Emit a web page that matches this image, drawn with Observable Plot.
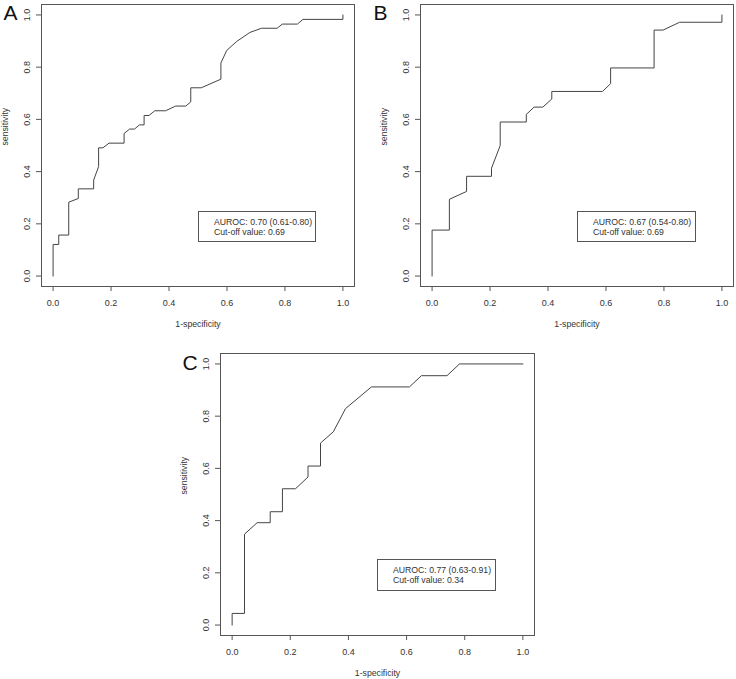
<!DOCTYPE html>
<html><head><meta charset="utf-8">
<script src="https://cdn.jsdelivr.net/npm/d3@7"></script>
<script src="https://cdn.jsdelivr.net/npm/@observablehq/plot@0.6"></script>
<style>
body{margin:0;background:#fff;}
#wrap{position:relative;width:736px;height:679px;font-family:"Liberation Sans",Arial,sans-serif;}
.panel{position:absolute;}
.legend{position:absolute;border:1px solid #555;box-sizing:border-box;font-size:8.7px;color:#333;line-height:10.5px;padding-top:4.75px;padding-left:15px;white-space:nowrap;}
</style></head><body><div id="wrap"></div>
<script>
const ticks = [0, 0.2, 0.4, 0.6, 0.8, 1.0];
const xLabel = "1-specificity";
const yLabel = "sensitivity";
const letters = ["A", "B", "C"];

const fprA = [0, 0, 0.0195, 0.0195, 0.054, 0.054, 0.087, 0.087, 0.140, 0.140, 0.157, 0.157, 0.172, 0.193, 0.245, 0.245, 0.264, 0.281, 0.298, 0.314, 0.314, 0.331, 0.351, 0.388, 0.423, 0.458, 0.475, 0.475, 0.511, 0.579, 0.579, 0.599, 0.633, 0.679, 0.719, 0.773, 0.791, 0.843, 0.862, 1, 1];
const tprA = [0, 0.121, 0.121, 0.157, 0.157, 0.283, 0.297, 0.334, 0.334, 0.368, 0.419, 0.491, 0.491, 0.509, 0.509, 0.546, 0.563, 0.563, 0.579, 0.579, 0.615, 0.615, 0.633, 0.633, 0.651, 0.651, 0.667, 0.721, 0.721, 0.754, 0.816, 0.864, 0.898, 0.933, 0.949, 0.949, 0.965, 0.965, 0.983, 0.983, 1.0];

const fprB = [0, 0, 0.0596, 0.0596, 0.119, 0.119, 0.205, 0.205, 0.235, 0.235, 0.325, 0.325, 0.352, 0.382, 0.413, 0.413, 0.588, 0.616, 0.616, 0.766, 0.766, 0.797, 0.854, 1, 1];
const tprB = [0, 0.176, 0.176, 0.294, 0.324, 0.382, 0.382, 0.413, 0.500, 0.590, 0.590, 0.619, 0.647, 0.647, 0.678, 0.707, 0.707, 0.737, 0.797, 0.797, 0.942, 0.942, 0.972, 0.972, 1];

const fprC = [0, 0, 0.0425, 0.0425, 0.086, 0.131, 0.131, 0.173, 0.173, 0.218, 0.261, 0.261, 0.304, 0.304, 0.348, 0.390, 0.479, 0.610, 0.651, 0.739, 0.782, 1.0];
const tprC = [0, 0.0446, 0.0446, 0.348, 0.392, 0.392, 0.434, 0.434, 0.522, 0.522, 0.567, 0.609, 0.609, 0.697, 0.740, 0.829, 0.912, 0.912, 0.955, 0.955, 1.0, 1.0];

const aurocLabels = ["AUROC: 0.70 (0.61-0.80)", "AUROC: 0.67 (0.54-0.80)", "AUROC: 0.77 (0.63-0.91)"];
const cutoffLabels = ["Cut-off value: 0.69", "Cut-off value: 0.69", "Cut-off value: 0.34"];

const wrap = document.getElementById("wrap");
const fmt = d3.format(".1f");

function rocPanel(letter, fpr, tpr, opt) {
  const data = fpr.map((x, i) => ({x, y: tpr[i]}));
  return Plot.plot({
    width: opt.width, height: 330,
    marginLeft: opt.marginLeft, marginRight: opt.marginRight, marginTop: 4, marginBottom: 44,
    x: {domain: [-0.04, 1.04]},
    y: {domain: [-0.04, 1.04]},
    style: {fontFamily: '"Liberation Sans", Arial, sans-serif', fontSize: "9px", color: "#333", background: "transparent", overflow: "visible"},
    marks: [
      Plot.frame({stroke: "#555"}),
      Plot.axisX({ticks, tickSize: 5, tickPadding: 8, tickFormat: fmt, label: null, stroke: "#555", fill: "#333"}),
      Plot.axisY({ticks, tickSize: 5, tickPadding: 7, tickRotate: -90, textAnchor: "middle", lineAnchor: "bottom", tickFormat: fmt, label: null, stroke: "#555", fill: "#333"}),
      Plot.line(data, {x: "x", y: "y", stroke: "#444", strokeWidth: 1}),
      Plot.text([xLabel], {text: d => d, frameAnchor: "bottom", dy: 40, lineAnchor: "bottom", fontSize: 8.7, fill: "#333"}),
      Plot.text([yLabel], {text: d => d, frameAnchor: "left", rotate: -90, dx: -34, lineAnchor: "bottom", fontSize: 8.7, fill: "#333"}),
      Plot.text([letter], {text: d => d, frameAnchor: "top-left", dx: opt.letterDx, dy: opt.letterDy, textAnchor: "start", lineAnchor: "top", fontSize: 21, fill: "#111"})
    ]
  });
}

function place(el, left, top) {
  const d = document.createElement("div");
  d.className = "panel";
  d.style.left = left + "px";
  d.style.top = top + "px";
  d.appendChild(el);
  wrap.appendChild(d);
}

function legend(i, left, top, w, h) {
  const d = document.createElement("div");
  d.className = "legend";
  d.style.left = left + "px"; d.style.top = top + "px";
  d.style.width = w + "px"; d.style.height = h + "px";
  const l1 = document.createElement("div"); l1.textContent = aurocLabels[i];
  const l2 = document.createElement("div"); l2.textContent = cutoffLabels[i];
  d.appendChild(l1); d.appendChild(l2);
  wrap.appendChild(d);
}

place(rocPanel(letters[0], fprA, tprA, {width: 360, marginLeft: 41, marginRight: 6, letterDx: -38, letterDy: 1}), 0, 0);
place(rocPanel(letters[1], fprB, tprB, {width: 366, marginLeft: 50, marginRight: 3, letterDx: -47, letterDy: 1}), 370, 0);
place(rocPanel(letters[2], fprC, tprC, {width: 361, marginLeft: 41, marginRight: 6, letterDx: -38, letterDy: 2}), 179, 349);

legend(0, 198, 211, 118, 31);
legend(1, 577, 211, 119, 31);
legend(2, 377, 559, 119, 32);
</script>
</body></html>
